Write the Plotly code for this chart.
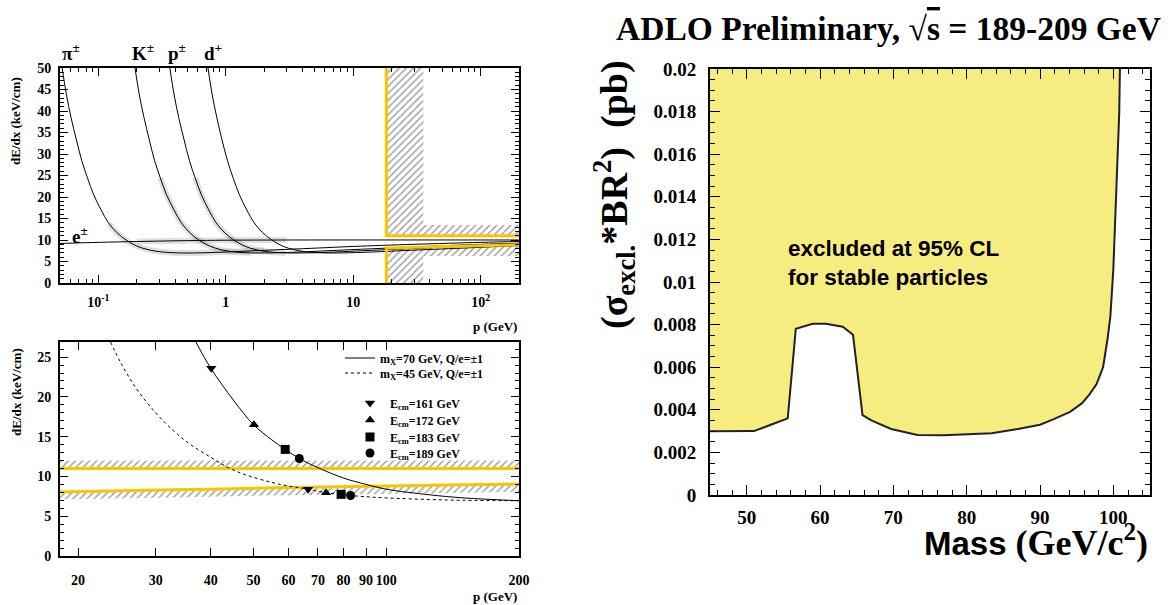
import plotly.graph_objects as go

SERIF = "Liberation Serif"
SANS = "Liberation Sans"
YELLOW = "#f7c600"
FILL = "#f6ec80"

# ---------------- top-left panel: dE/dx vs p ----------------
pi_p = [0.052, 0.056, 0.061, 0.067, 0.074, 0.082, 0.092, 0.105, 0.12, 0.14, 0.165, 0.2, 0.25, 0.32, 0.42, 0.6, 1.0, 2, 5, 10, 30, 100, 200]
pi_y = [50, 44, 38.5, 33.5, 28.5, 24.5, 20.5, 17, 14, 11.7, 10, 8.6, 7.7, 7.2, 7.0, 7.0, 7.2, 7.6, 8.1, 8.5, 9.0, 9.45, 9.65]
K_p = [0.194, 0.209, 0.228, 0.25, 0.276, 0.306, 0.343, 0.392, 0.448, 0.522, 0.615, 0.746, 0.93, 1.19, 1.57, 2.2, 3.7, 7.5, 18, 37, 100, 200]
K_y = [50, 44, 38.5, 33.5, 28.5, 24.5, 20.5, 17, 14, 11.7, 10, 8.6, 7.7, 7.2, 7.0, 7.0, 7.2, 7.6, 8.1, 8.5, 9.0, 9.25]
pr_p = [0.364, 0.392, 0.427, 0.469, 0.518, 0.574, 0.644, 0.735, 0.84, 0.98, 1.155, 1.4, 1.75, 2.24, 2.94, 4.2, 7, 14, 35, 70, 200]
pr_y = [50, 44, 38.5, 33.5, 28.5, 24.5, 20.5, 17, 14, 11.7, 10, 8.6, 7.7, 7.2, 7.0, 7.0, 7.2, 7.6, 8.1, 8.5, 9.0]
d_p = [0.725, 0.78, 0.85, 0.93, 1.03, 1.14, 1.28, 1.46, 1.67, 1.95, 2.3, 2.78, 3.48, 4.45, 5.84, 8.3, 13.9, 28, 70, 139, 200]
d_y = [50, 44, 38.5, 33.5, 28.5, 24.5, 20.5, 17, 14, 11.7, 10, 8.6, 7.7, 7.2, 7.0, 7.0, 7.2, 7.6, 8.1, 8.5, 8.7]
e_p = [0.05, 0.1, 0.2, 0.5, 1, 3, 200]
e_y = [9.2, 9.45, 9.65, 9.85, 9.95, 10.0, 10.0]

# selection window (top panel)
tu_p = [18.2, 18.2, 200]
tu_y = [50, 11, 11]
tl_p = [18.2, 18.2, 30, 50, 100, 200]
tl_y = [0, 8.1, 8.3, 8.5, 8.75, 8.9]
thu_p = [18.2, 200, 200, 35.5, 35.5, 18.2]
thu_y = [11, 11, 13.5, 13.5, 50, 50]
thl_p = [18.2, 35.5, 35.5, 200, 200, 100, 50, 35.5, 18.2]
thl_y = [0, 0, 6.3, 6.3, 8.9, 8.75, 8.5, 8.4, 8.1]

# ---------------- bottom-left panel ----------------
bu_p = [18.2, 200]
bu_y = [11, 11]
bu_top = [12, 12]
bl_p = [18.2, 25, 40, 60, 100, 150, 200]
bl_y = [8.05, 8.2, 8.4, 8.6, 8.8, 8.95, 9.05]
bl_bot = [7.1, 7.25, 7.45, 7.65, 7.85, 7.95, 8.05]

m70_p = [37.0, 40, 45, 50, 55, 59, 63.5, 70, 80, 90, 100, 125, 150, 200]
m70_y = [26.9, 23.6, 19.6, 16.5, 14.6, 13.4, 12.25, 11.1, 9.8, 9.0, 8.4, 7.7, 7.3, 6.95]
m45_p = [23.7, 25, 27, 30, 33, 36, 40, 43.5, 48, 55, 60, 66.5, 73, 79, 83, 90, 100, 125, 150, 200]
m45_y = [26.9, 24.3, 21.2, 18.0, 15.7, 14.0, 12.4, 11.2, 10.2, 9.25, 8.8, 8.4, 7.95, 7.75, 7.6, 7.45, 7.3, 7.1, 7.0, 6.95]

e161_p, e161_y = [40.1, 66.5], [23.6, 8.4]
e172_p, e172_y = [50.1, 73.0], [16.5, 7.95]
e183_p, e183_y = [59.0, 79.0], [13.4, 7.75]
e189_p, e189_y = [63.5, 83.0], [12.25, 7.6]

# ---------------- right panel: excluded cross-section ----------------
mass = [45, 51, 53.3, 55.6, 56.7, 59, 60.8, 63.1, 64.5, 65.8, 67, 69.7, 73.3, 76.9, 80.9, 83.4, 87, 90, 91.8, 94.1,
        95.7, 96.7, 97.7, 98.6, 99.2, 99.6, 100.0, 100.4, 100.8, 100.9]
xsec = [0.00299, 0.0030, 0.0033, 0.0036, 0.0078, 0.00804, 0.00804, 0.0079, 0.00752, 0.00375, 0.0035, 0.0031, 0.00282,
        0.0028, 0.00286, 0.0029, 0.0031, 0.0033, 0.00355, 0.0039, 0.0043, 0.0047, 0.0052, 0.0060, 0.0073, 0.0084,
        0.0106, 0.0143, 0.0179, 0.0200]
MASS_MIN, MASS_MAX = 45, 105
XSEC_MAX = 0.02
yticks_r = [0, 0.002, 0.004, 0.006, 0.008, 0.01, 0.012, 0.014, 0.016, 0.018, 0.02]
yticktext_r = ["0", "0.002", "0.004", "0.006", "0.008", "0.01", "0.012", "0.014", "0.016", "0.018", "0.02"]

top_ticks = [0.1, 1, 10, 100]
top_ticktext = ["10<sup>-1</sup>", "1", "10", "10<sup>2</sup>"]
top_minor = [m * 10 ** e for e in (-2, -1, 0, 1, 2) for m in range(2, 10) if 0.05 <= m * 10 ** e <= 200]
bot_ticks = [20, 30, 40, 50, 60, 70, 80, 90, 100, 200]
bot_ticktext = [str(v) for v in bot_ticks]

fig = go.Figure()
HATCH = dict(shape="/", fgcolor="#333333", bgcolor="white", size=5, solidity=0.28)

def hatch(xs, ys, xa, ya):
    fig.add_trace(go.Scatter(x=xs, y=ys, fill="toself", fillpattern=HATCH, fillcolor="white",
                             line=dict(width=0), mode="lines", showlegend=False, hoverinfo="skip",
                             xaxis=xa, yaxis=ya))

# top panel
hatch(thu_p, thu_y, "x", "y")
hatch(thl_p, thl_y, "x", "y")

HALO = {"pi": (0.11, 2.5), "K": (0.3, 2.0), "p": (0.55, 3.5), "e": (0.15, 4.0)}
for key, ps, ys in [("pi", pi_p, pi_y), ("K", K_p, K_y), ("p", pr_p, pr_y), ("e", e_p, e_y)]:
    lo, hi = HALO[key]
    sel = [(a, b) for a, b in zip(ps, ys) if lo <= a <= hi]
    fig.add_trace(go.Scatter(x=[a for a, b in sel], y=[b for a, b in sel], mode="lines", line_shape="spline",
                             line=dict(color="rgba(0,0,0,0.12)", width=6), showlegend=False, hoverinfo="skip",
                             xaxis="x", yaxis="y"))
for ps, ys in [(pi_p, pi_y), (K_p, K_y), (pr_p, pr_y), (d_p, d_y), (e_p, e_y)]:
    fig.add_trace(go.Scatter(x=ps, y=ys, mode="lines", line_shape="spline", line=dict(color="black", width=1),
                             showlegend=False, xaxis="x", yaxis="y"))
for ps, ys in [(tu_p, tu_y), (tl_p, tl_y)]:
    fig.add_trace(go.Scatter(x=ps, y=ys, mode="lines", line=dict(color=YELLOW, width=3),
                             showlegend=False, xaxis="x", yaxis="y"))

# bottom panel
hatch(bu_p + bu_p[::-1], bu_y + bu_top[::-1], "x2", "y2")
hatch(bl_p + bl_p[::-1], bl_y + bl_bot[::-1], "x2", "y2")
for ps, ys in [(bu_p, bu_y), (bl_p, bl_y)]:
    fig.add_trace(go.Scatter(x=ps, y=ys, mode="lines", line_shape="spline", line=dict(color=YELLOW, width=3),
                             showlegend=False, xaxis="x2", yaxis="y2"))
fig.add_trace(go.Scatter(x=m70_p, y=m70_y, mode="lines", line_shape="spline", line=dict(color="black", width=1),
                         name="m<sub>X</sub>=70 GeV, Q/e=\u00b11", legend="legend", xaxis="x2", yaxis="y2"))
fig.add_trace(go.Scatter(x=m45_p, y=m45_y, mode="lines", line_shape="spline",
                         line=dict(color="black", width=1, dash="3px,3px"),
                         name="m<sub>X</sub>=45 GeV, Q/e=\u00b11", legend="legend2", xaxis="x2", yaxis="y2"))
for i, (ps, ys, sym, lab) in enumerate([(e161_p, e161_y, "triangle-down", "161"), (e172_p, e172_y, "triangle-up", "172"),
                                        (e183_p, e183_y, "square", "183"), (e189_p, e189_y, "circle", "189")]):
    fig.add_trace(go.Scatter(x=ps, y=ys, mode="markers", marker=dict(symbol=sym, size=9, color="black"),
                             name="E<sub>cm</sub>=%s GeV" % lab, legend="legend%d" % (i + 3),
                             xaxis="x2", yaxis="y2"))

# right panel
fig.add_trace(go.Scatter(x=mass + [MASS_MIN], y=xsec + [XSEC_MAX], fill="toself", fillcolor=FILL,
                         line=dict(width=0), mode="lines", showlegend=False, hoverinfo="skip",
                         xaxis="x3", yaxis="y3"))
fig.add_trace(go.Scatter(x=mass, y=xsec, mode="lines", line=dict(color="#222222", width=2),
                         showlegend=False, xaxis="x3", yaxis="y3"))

def ax(**kw):
    d = dict(showline=True, linewidth=2, linecolor="black", mirror="allticks", ticks="inside",
             tickcolor="black", tickwidth=1.2, showgrid=False, zeroline=False, automargin=False)
    d.update(kw)
    return d

LF = dict(family=SERIF, size=14, color="black", weight="bold")
RF = dict(family=SERIF, size=19, color="black", weight="bold")
PW, PH = 1168, 605
xl = [60 / PW, 519 / PW]

layout = dict(
    width=PW, height=PH, margin=dict(l=0, r=0, t=0, b=0, autoexpand=False),
    paper_bgcolor="white", plot_bgcolor="white",
    xaxis=ax(domain=xl, anchor="y", type="log", range=[-1.30103, 2.30103], tickvals=top_ticks,
             ticktext=top_ticktext, ticklen=8, tickfont=LF, ticklabelstandoff=5,
             minor=dict(ticks="inside", ticklen=4, tickcolor="black", tickwidth=1, tickvals=top_minor)),
    yaxis=ax(domain=[1 - 283 / PH, 1 - 68 / PH], anchor="x", range=[0, 50], dtick=5, ticklen=8, tickfont=LF,
             ticklabelstandoff=4, minor=dict(ticks="inside", ticklen=4, tickcolor="black", dtick=1)),
    xaxis2=ax(domain=xl, anchor="y2", type="log", range=[1.26007, 2.30103], tickvals=bot_ticks,
              ticktext=bot_ticktext, ticklen=8, tickfont=LF, ticklabelstandoff=10),
    yaxis2=ax(domain=[1 - 556 / PH, 1 - 342 / PH], anchor="x2", range=[0, 26.9], dtick=5, ticklen=8,
              tickfont=LF, ticklabelstandoff=4,
              minor=dict(ticks="inside", ticklen=4, tickcolor="black", dtick=1)),
    xaxis3=ax(domain=[710 / PW, 1150 / PW], anchor="y3", range=[MASS_MIN, MASS_MAX], dtick=10, ticklen=10,
              tickfont=RF, ticklabelstandoff=4,
              minor=dict(ticks="inside", ticklen=5, tickcolor="black", dtick=2)),
    yaxis3=ax(domain=[1 - 495 / PH, 1 - 69 / PH], anchor="x3", range=[0, XSEC_MAX], tickvals=yticks_r,
              ticktext=yticktext_r, ticklen=10, tickfont=RF, ticklabelstandoff=8,
              minor=dict(ticks="inside", ticklen=5, tickcolor="black", dtick=0.0005)),
)
leg_font = dict(family=SERIF, size=12, color="black", weight="bold")
leg_pos = [(340, 358), (340, 373), (350, 403), (350, 420), (350, 437), (350, 453)]
for i, (lx, ly) in enumerate(leg_pos):
    key = "legend" if i == 0 else "legend%d" % (i + 1)
    layout[key] = dict(x=lx / PW, y=1 - ly / PH, xanchor="left", yanchor="middle", bgcolor="rgba(0,0,0,0)",
                       font=leg_font, borderwidth=0, itemwidth=30)
fig.update_layout(**layout)

def note(text, x, y, size, family=SERIF, angle=0, xanchor="center", yanchor="middle", align="center"):
    fig.add_annotation(text=text, x=x / PW, y=1 - y / PH, xref="paper", yref="paper", showarrow=False,
                       textangle=angle, xanchor=xanchor, yanchor=yanchor, align=align,
                       font=dict(family=family, size=size, color="black", weight="bold"))

note("\u03c0<sup>\u00b1</sup>", 71, 52, 19)
note("K<sup>\u00b1</sup>", 143, 52, 19)
note("p<sup>\u00b1</sup>", 177, 52, 19)
note("d<sup>+</sup>", 213, 52, 19)
note("e<sup>\u00b1</sup>", 80, 235, 19)
note("dE/dx (keV/cm)", 16, 121, 13, angle=-90)
note("dE/dx (keV/cm)", 16, 392, 13, angle=-90)
note("p (GeV)", 519, 326, 13, xanchor="right")
note("p (GeV)", 519, 596, 13, xanchor="right")
note("ADLO Preliminary, \u221a<span style='text-decoration:overline'>s</span> = 189-209 GeV", 888, 29, 33.5)
note("(\u03c3<sub>excl.</sub>*BR<sup>2</sup>)  (pb)", 614, 195, 38, angle=-90)
note("<span style='font-family:Liberation Sans;font-size:33px'>Mass</span> (GeV/c<sup>2</sup>)", 1150, 565, 36,
     xanchor="right", yanchor="bottom")
note("excluded at 95% CL<br>for stable particles", 786, 263, 22.5, family=SANS, xanchor="left", align="left")

fig.write_html("out.html")
